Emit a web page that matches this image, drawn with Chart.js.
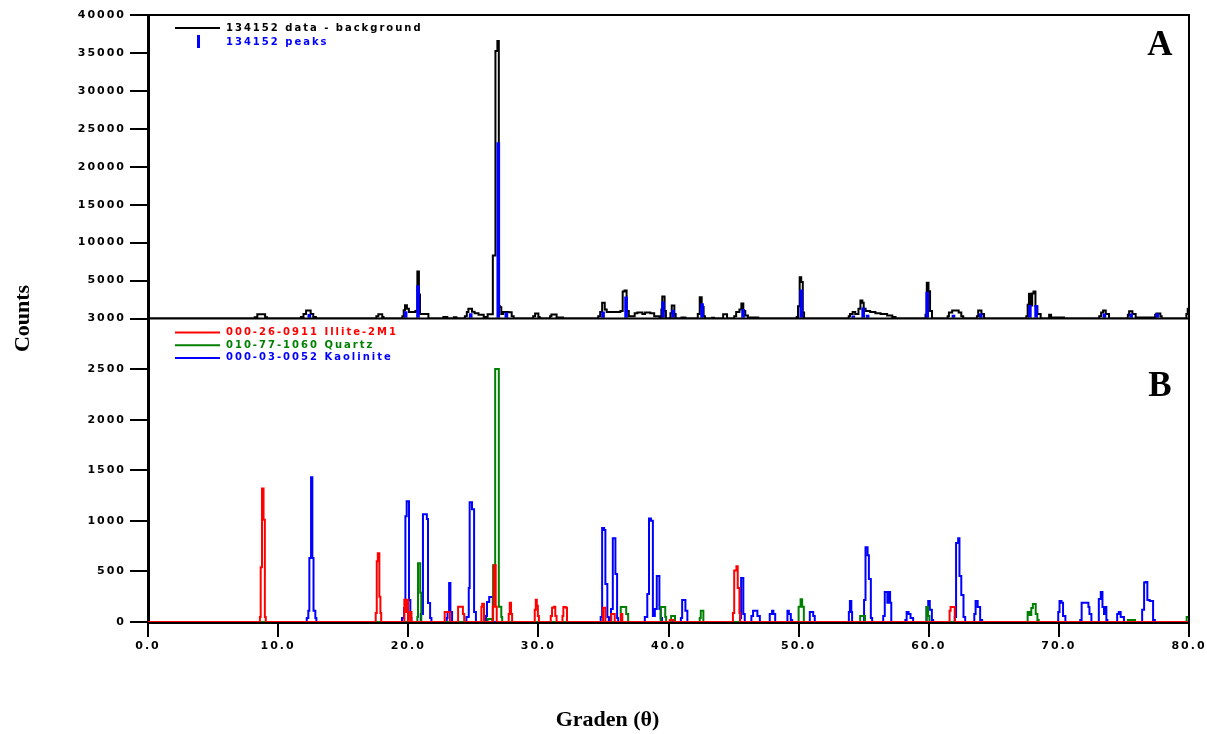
<!DOCTYPE html>
<html>
<head>
<meta charset="utf-8">
<title>XRD 134152</title>
<script src="https://cdn.jsdelivr.net/npm/chart.js@4.4.0/dist/chart.umd.min.js"></script>
<style>
	body { margin: 0; background: #fff; }
	canvas { display: block; }
</style>
</head>
<body>
<canvas id="xrd" width="1207" height="734"></canvas>
<script>
// measured pattern minus background, [2theta, counts], stepped profile
var sampleProfile = [
	[0,0],[8.2,150],[8.4,570],[9.0,150],[9.15,0],
	[11.75,200],[11.95,600],[12.15,1050],[12.5,600],[12.7,200],[12.9,0],
	[17.55,300],[17.7,560],[18.0,200],[18.1,0],
	[19.55,300],[19.65,1100],[19.75,1750],[19.9,1300],[20.05,870],[20.55,1000],[20.7,6190],[20.82,3160],[20.9,600],[21.55,0],
	[22.7,200],[23.0,0],[23.5,150],[23.7,0],
	[24.35,300],[24.5,870],[24.62,1270],[24.9,900],[25.1,700],[25.4,500],[25.8,200],[26.1,560],[26.5,8290],[26.7,35270],[26.85,36580],[26.96,1600],[27.05,1490],[27.15,600],[27.3,870],[27.7,830],[27.95,300],[28.1,0],
	[29.6,300],[29.75,660],[30.0,200],[30.1,0],
	[30.9,300],[31.0,530],[31.3,530],[31.4,130],[31.7,130],[31.9,0],
	[34.6,300],[34.75,870],[34.9,2060],[35.1,1200],[35.25,870],[36.3,1000],[36.48,3550],[36.62,3680],[36.78,1000],[36.95,300],[37.4,700],[37.6,790],[38.0,600],[38.2,790],[38.6,700],[38.9,300],[39.3,200],[39.45,1200],[39.52,2900],[39.7,1000],[39.8,0],
	[40.15,700],[40.25,1710],[40.45,600],[40.55,0],
	[41.0,130],[41.3,0],
	[42.25,600],[42.4,2810],[42.55,1500],[42.7,300],[42.8,0],
	[43.35,100],[43.5,0],
	[44.2,560],[44.5,0],
	[45.05,300],[45.2,870],[45.45,1200],[45.6,1970],[45.75,1000],[45.9,400],[46.1,130],[46.9,0],
	[49.85,200],[49.95,1600],[50.08,5440],[50.2,4810],[50.32,800],[50.42,0],
	[53.85,300],[53.95,600],[54.15,870],[54.35,600],[54.6,1300],[54.75,2370],[54.9,2060],[55.0,1300],[55.15,1000],[55.5,870],[55.9,700],[56.3,600],[56.8,400],[57.2,200],[57.45,0],
	[59.75,500],[59.85,4700],[59.98,3600],[60.1,1000],[60.25,0],
	[61.45,300],[61.55,800],[61.8,1050],[62.3,800],[62.5,300],[62.65,0],
	[63.7,300],[63.8,1050],[64.05,600],[64.25,0],
	[67.5,300],[67.6,1800],[67.7,3250],[67.85,1700],[67.95,3300],[68.05,3550],[68.2,1600],[68.35,600],[68.6,0],
	[69.25,500],[69.4,130],[70.4,0],
	[73.1,300],[73.25,800],[73.4,1050],[73.6,600],[73.85,0],
	[75.3,500],[75.4,960],[75.65,600],[75.9,130],[77.4,500],[77.5,660],[77.8,300],[77.9,0],
	[79.8,600],[79.9,1300],[80,1300]
];

// peak search results
var peakAngles = [12.4, 19.8, 20.75, 24.8, 26.92, 27.54, 34.97, 36.74, 39.58, 40.35, 42.58, 45.73, 50.2, 54.2, 54.96, 55.3, 59.88, 61.9, 64.0, 67.77, 68.25, 73.5, 75.55, 77.55];
var peakCounts = [560, 900, 4340, 650, 23200, 750, 870, 2850, 2200, 1100, 1970, 1200, 3770, 350, 1400, 450, 3470, 450, 650, 1750, 1750, 600, 600, 650];

// reference patterns, [2theta, counts]
var illiteProfile = [
	[0,0],
	[8.6,50],[8.66,540],[8.76,1320],[8.88,1010],[8.98,50],[9.05,0],
	[17.5,90],[17.58,600],[17.66,680],[17.78,250],[17.86,90],[17.92,0],
	[19.7,220],[19.8,100],[19.88,220],[19.98,0],[20.15,100],[20.25,0],
	[22.8,100],[23.2,0],
	[23.83,150],[24.2,80],[24.3,0],
	[25.62,150],[25.68,180],[25.82,0],
	[26.5,150],[26.58,560],[26.72,150],[26.8,0],
	[27.72,80],[27.8,190],[27.9,80],[27.98,0],
	[29.72,120],[29.8,220],[29.88,160],[29.96,60],[30.04,0],
	[30.95,60],[31.05,140],[31.18,150],[31.3,60],[31.4,0],
	[31.85,60],[31.92,148],[32.1,140],[32.2,0],
	[34.97,140],[35.15,0],
	[35.6,80],[35.87,0],
	[36.35,80],[36.45,0],
	[40.1,20],[40.4,0],
	[44.95,90],[45.05,510],[45.22,552],[45.32,336],[45.45,90],[45.5,0],
	[61.6,110],[61.68,148],[61.95,148],[62.0,0],
	[80,0]
];

var quartzProfile = [
	[0,0],
	[20.7,50],[20.75,580],[20.92,290],[21.0,0],
	[26.1,30],[26.45,0],[26.52,560],[26.68,2500],[26.96,150],[27.15,50],[27.22,0],
	[36.33,148],[36.75,80],[36.9,0],
	[39.4,148],[39.75,50],[39.82,0],[40.2,60],[40.5,0],
	[42.4,40],[42.48,110],[42.68,0],
	[50.0,150],[50.15,224],[50.27,150],[50.4,0],
	[54.73,60],[55.1,0],
	[59.83,148],[59.95,60],[60.05,0],
	[67.6,100],[67.75,70],[67.88,138],[68.0,178],[68.22,80],[68.35,20],[68.45,0],
	[75.3,20],[75.85,0],
	[79.82,50],[80,50]
];

var kaoliniteProfile = [
	[0,0],
	[12.2,40],[12.32,110],[12.4,632],[12.53,1431],[12.63,632],[12.72,110],[12.86,40],[12.94,0],
	[19.52,40],[19.68,138],[19.78,1046],[19.88,1194],[20.06,217],[20.16,40],[20.24,0],
	[20.96,80],[21.13,1066],[21.43,1017],[21.52,187],[21.68,40],[21.78,0],
	[22.96,40],[23.02,100],[23.14,385],[23.24,100],[23.37,0],
	[24.47,50],[24.65,336],[24.72,1184],[24.9,1115],[25.06,100],[25.2,0],
	[25.98,60],[26.05,197],[26.22,247],[26.5,0],
	[34.79,50],[34.9,928],[35.05,910],[35.15,375],[35.3,50],[35.41,0],
	[35.5,40],[35.58,128],[35.72,829],[35.92,474],[36.05,40],[36.13,0],
	[38.18,50],[38.37,276],[38.5,1023],[38.65,1000],[38.8,60],[38.95,128],[39.1,454],[39.3,128],[39.4,40],[39.5,0],
	[40.95,40],[41.05,217],[41.3,110],[41.45,0],
	[45.5,40],[45.58,434],[45.75,80],[45.86,0],
	[46.37,60],[46.5,110],[46.83,60],[47.02,0],
	[47.78,80],[47.96,110],[48.06,80],[48.2,0],
	[49.14,110],[49.25,80],[49.4,20],[49.5,0],
	[50.86,100],[51.12,60],[51.24,0],
	[53.86,100],[53.94,207],[54.05,100],[54.11,0],
	[55.03,217],[55.14,740],[55.3,661],[55.4,424],[55.55,40],[55.65,0],
	[56.5,60],[56.62,296],[56.82,190],[56.9,296],[57.03,190],[57.12,0],
	[58.2,20],[58.3,100],[58.45,80],[58.6,40],[58.8,0],
	[59.83,148],[59.96,207],[60.08,120],[60.24,20],[60.34,0],
	[62.0,50],[62.1,780],[62.26,829],[62.36,454],[62.5,266],[62.67,50],[62.8,0],
	[63.5,80],[63.6,207],[63.76,148],[63.95,20],[64.1,0],
	[69.95,100],[70.05,207],[70.2,190],[70.32,60],[70.5,0],
	[71.64,20],[71.75,190],[72.27,148],[72.35,80],[72.5,0],
	[73.07,227],[73.22,296],[73.35,148],[73.47,80],[73.55,148],[73.65,20],[73.73,0],
	[74.48,80],[74.6,100],[74.75,50],[75.0,0],
	[76.4,120],[76.55,390],[76.65,395],[76.8,217],[76.98,207],[77.24,20],[77.38,0],
	[80,0]
];

var legendTop = [
	{ text: '134152 data - background', color: '#000000', mark: 'line' },
	{ text: '134152 peaks', color: '#0000ff', mark: 'bar' }
];
var legendBottom = [
	{ text: '000-26-0911 Illite-2M1', color: '#ff0000' },
	{ text: '010-77-1060 Quartz', color: '#008000' },
	{ text: '000-03-0052 Kaolinite', color: '#0000ff' }
];

function toPoints(pairs) {
	return pairs.map(function(p) { return { x: p[0], y: p[1] }; });
}

var tickFont = { family: 'DejaVu Sans', size: 11, weight: 'bold' };

function countAxis(max, step, weight, hideZero) {
	return {
		type: 'linear',
		position: 'left',
		stack: 'panels',
		stackWeight: weight,
		min: 0,
		max: max,
		ticks: {
			stepSize: step,
			color: '#000',
			font: tickFont,
			padding: 4,
			callback: function(v) { return (hideZero && v === 0) ? '' : String(v); }
		},
		grid: { drawOnChartArea: false, drawTicks: true, tickLength: 18, color: '#000', lineWidth: 2 },
		border: { display: true, color: '#000', width: 3 },
		afterFit: function(scale) { scale.width = 148; }
	};
}

// frame, titles and the two legends
var decorations = {
	id: 'decorations',
	beforeDraw: function(chart) {
		chart.ctx.letterSpacing = '2px';
	},
	afterDraw: function(chart) {
		var ctx = chart.ctx;
		var area = chart.chartArea;
		var mid = chart.scales.yA.bottom;

		ctx.save();
		ctx.letterSpacing = '0px';
		ctx.strokeStyle = '#000';
		ctx.lineWidth = 2;
		ctx.beginPath();
		ctx.moveTo(area.left, area.top);
		ctx.lineTo(area.right, area.top);
		ctx.lineTo(area.right, area.bottom);
		ctx.moveTo(area.left, mid);
		ctx.lineTo(area.right, mid);
		ctx.stroke();

		ctx.fillStyle = '#000';
		ctx.font = 'bold 22px "Liberation Serif"';
		ctx.textAlign = 'center';
		ctx.textBaseline = 'middle';
		ctx.fillText('Graden (\u03b8)', chart.width / 2 + 4, 720);
		ctx.save();
		ctx.translate(23, (area.top + area.bottom) / 2);
		ctx.rotate(-Math.PI / 2);
		ctx.fillText('Counts', 0, 0);
		ctx.restore();

		ctx.font = 'bold 35px "Liberation Serif"';
		ctx.textBaseline = 'alphabetic';
		ctx.fillText('A', area.right - 29, area.top + 40);
		ctx.fillText('B', area.right - 29, mid + 77);

		ctx.font = 'bold 10px "DejaVu Sans"';
		ctx.letterSpacing = '2px';
		ctx.textAlign = 'left';
		ctx.textBaseline = 'middle';
		var lx = area.left + 27;
		legendTop.forEach(function(item, i) {
			var y = area.top + 13 + i * 14;
			ctx.fillStyle = item.color;
			ctx.strokeStyle = item.color;
			if (item.mark === 'line') {
				ctx.lineWidth = 2;
				ctx.beginPath();
				ctx.moveTo(lx, y);
				ctx.lineTo(lx + 45, y);
				ctx.stroke();
			} else {
				ctx.fillRect(lx + 22, y - 7, 3, 13);
			}
			ctx.fillText(item.text, lx + 51, y);
		});
		legendBottom.forEach(function(item, i) {
			var y = mid + 14 + i * 12.7;
			ctx.strokeStyle = item.color;
			ctx.fillStyle = item.color;
			ctx.lineWidth = 2;
			ctx.beginPath();
			ctx.moveTo(lx, y);
			ctx.lineTo(lx + 45, y);
			ctx.stroke();
			ctx.fillText(item.text, lx + 51, y);
		});
		ctx.restore();
	}
};

var ctx = document.getElementById('xrd').getContext('2d');

var xrdChart = new Chart(ctx, {
	type: 'line',
	data: {
		datasets: [{
			type: 'bar',
			label: '134152 peaks',
			data: peakAngles.map(function(a, i) { return { x: a, y: peakCounts[i] }; }),
			backgroundColor: '#0000ff',
			barThickness: 3,
			grouped: false,
			yAxisID: 'yA',
			order: 0
		}, {
			label: '134152 data - background',
			data: toPoints(sampleProfile),
			borderColor: '#000000',
			yAxisID: 'yA',
			order: 1
		}, {
			label: '000-26-0911 Illite-2M1',
			data: toPoints(illiteProfile),
			borderColor: '#ff0000',
			yAxisID: 'yB',
			order: 2
		}, {
			label: '010-77-1060 Quartz',
			data: toPoints(quartzProfile),
			borderColor: '#008000',
			yAxisID: 'yB',
			order: 3
		}, {
			label: '000-03-0052 Kaolinite',
			data: toPoints(kaoliniteProfile),
			borderColor: '#0000ff',
			yAxisID: 'yB',
			order: 4
		}]
	},
	options: {
		responsive: false,
		animation: false,
		layout: { padding: { top: 15, right: 18, left: 0, bottom: 0 } },
		plugins: { legend: { display: false }, tooltip: { enabled: false } },
		elements: {
			point: { radius: 0 },
			line: { borderWidth: 2, tension: 0, stepped: true, fill: false }
		},
		scales: {
			x: {
				type: 'linear',
				min: 0,
				max: 80,
				offset: false,
				ticks: {
					stepSize: 10,
					color: '#000',
					font: tickFont,
					padding: 3,
					maxRotation: 0,
					callback: function(v) { return v.toFixed(1); }
				},
				grid: { offset: false, drawOnChartArea: false, drawTicks: true, tickLength: 15, color: '#000', lineWidth: 2 },
				border: { display: true, color: '#000', width: 3 },
				afterFit: function(scale) {
					scale.height = 112;
					scale.paddingLeft = 0;
					scale.paddingRight = 0;
				}
			},
			yB: countAxis(3000, 500, 1, false),
			yA: countAxis(40000, 5000, 1, true)
		}
	},
	plugins: [decorations]
});
</script>
</body>
</html>
